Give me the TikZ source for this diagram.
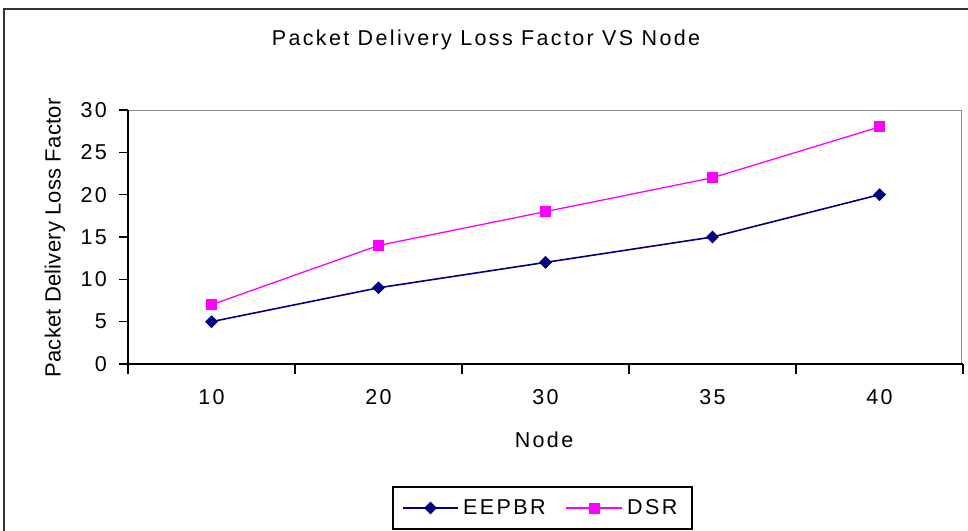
\documentclass[tikz,border=0pt]{standalone}
\usepackage{fontspec}
\setmainfont{Liberation Sans}
\usetikzlibrary{shapes.geometric}
\definecolor{navyc}{RGB}{0,0,128}
\definecolor{magc}{RGB}{255,0,255}
\begin{document}
\begin{tikzpicture}[x=1pt,y=-1pt,
  txt/.style={inner sep=0pt, font=\fontsize{21.5}{25}\selectfont\addfontfeature{LetterSpace=11}},
  ylbl/.style={inner sep=0pt, font=\fontsize{22}{25}\selectfont\addfontfeature{LetterSpace=1}},
  emark/.style={diamond, fill=navyc, inner sep=0pt, minimum width=13pt, minimum height=13pt},
  dmark/.style={rectangle, fill=magc, inner sep=0pt, minimum size=11pt},
  eline/.style={navyc, line width=1.6pt},
  dline/.style={magc, line width=1.3pt}]
\useasboundingbox (0,0) rectangle (968,530);
\clip (0,0) rectangle (968,530);
\fill[white] (0,0) rectangle (968,530);
% outer chart frame
\draw[line width=2pt, black!80] (4,545) -- (4,9) -- (985,9);
% plot area
\draw[black!45, line width=0.9pt] (128,110) -- (961,110) -- (961,364);
\draw[black, line width=1.2pt] (128,110) -- (128,364) -- (963,364);
% y ticks and labels
\foreach \v in {0,5,...,30} {
  \draw[black, line width=1.1pt] (119,{364-8.467*\v}) -- (128,{364-8.467*\v});
  \node[txt, anchor=east] (yl\v) at (107,{364-8.467*\v}) {\v};
}
% x ticks
\foreach \i in {0,...,5} {
  \draw[black, line width=1.1pt] ({128+167*\i},364) -- ({128+167*\i},374);
}
% x labels
\foreach \lab [count=\i from 0] in {10,20,30,35,40} {
  \node[txt] (xl\i) at ({211.5+167*\i},397) {\lab};
}
% titles
\node[txt] (title) at (486,40) {Packet Delivery Loss Factor VS Node};
\node[ylbl, rotate=90] (ytitle) at (55,238) {Packet Delivery Loss Factor};
\node[txt] (xtitle) at (544,440) {Node};
% data
\foreach \v [count=\i from 0] in {5,9,12,15,20} {
  \coordinate (ep\i) at ({211.5+167*\i},{364-8.467*\v});
}
\foreach \v [count=\i from 0] in {7,14,18,22,28} {
  \coordinate (dp\i) at ({211.5+167*\i},{364-8.467*\v});
}
\draw[dline] (dp0) -- (dp1) -- (dp2) -- (dp3) -- (dp4);
\draw[eline] (ep0) -- (ep1) -- (ep2) -- (ep3) -- (ep4);
\foreach \i in {0,...,4} {
  \node[dmark] (dm\i) at (dp\i) {};
  \node[emark] (em\i) at (ep\i) {};
}
% legend
\draw[black, line width=1.3pt] (393,487) rectangle (692,529);
\coordinate (la) at (403,508);
\coordinate (lb) at (458,508);
\draw[eline] (la) -- (lb);
\node[emark] (lem) at (430.5,508) {};
\node[txt, anchor=west] (leg1) at (463,507) {EEPBR};
\coordinate (lc) at (566,508);
\coordinate (ld) at (622,508);
\draw[dline] (lc) -- (ld);
\node[dmark] (ldm) at (594,508) {};
\node[txt, anchor=west] (leg2) at (627,507) {DSR};
\end{tikzpicture}
\end{document}
